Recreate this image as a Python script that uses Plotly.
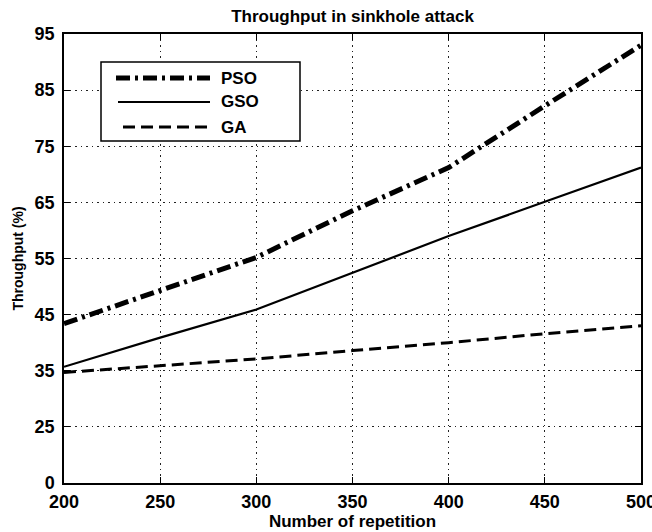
import plotly.graph_objects as go

# Number of repetitions (x) and throughput (%) of each algorithm
repetitions = [200, 250, 300, 350, 400, 450, 500]
pso = [43.4, 49.3, 55.2, 63.5, 71.2, 82.2, 93.0]
gso = [35.7, 40.9, 45.9, 52.5, 59.0, 65.1, 71.2]
ga = [34.7, 35.9, 37.1, 38.6, 40.0, 41.6, 43.0]

series_names = ["PSO", "GSO", "GA"]

# The y axis starts at 15, but its bottom tick is labelled 0
y_tickvals = [15, 25, 35, 45, 55, 65, 75, 85, 95]
y_ticktext = ["0", "25", "35", "45", "55", "65", "75", "85", "95"]
x_tickvals = [200, 250, 300, 350, 400, 450, 500]

W, H = 652, 532
ML, MR, MT, MB = 64, 11, 34, 49
PW, PH = W - ML - MR, H - MT - MB

FONT = "Liberation Sans, Arial, sans-serif"

styles = {
    "PSO": dict(color="black", width=5, dash="14px,5px,3px,5px"),
    "GSO": dict(color="black", width=2.2, dash="solid"),
    "GA": dict(color="black", width=3, dash="12px,6px"),
}

fig = go.Figure()
for name, ys in zip(series_names, [pso, gso, ga]):
    fig.add_trace(go.Scatter(x=repetitions, y=ys, mode="lines", name=name,
                             line=styles[name], showlegend=False))


def px_x(p):
    return (p - ML) / PW


def px_y(p):
    return (H - MB - p) / PH


# Hand-drawn legend box, with long sample lines like the MATLAB one
shapes = [dict(type="rect", xref="paper", yref="paper",
               x0=px_x(101), x1=px_x(300), y0=px_y(141), y1=px_y(62),
               line=dict(color="black", width=1.5), fillcolor="white",
               layer="above")]
annotations = []
rows = [("PSO", 78, 116), ("GSO", 102, 118), ("GA", 127, 123)]
for name, ypix, xstart in rows:
    st = styles[name]
    shapes.append(dict(type="line", xref="paper", yref="paper",
                       x0=px_x(xstart), x1=px_x(210), y0=px_y(ypix), y1=px_y(ypix),
                       line=dict(color="black", width=st["width"], dash=st["dash"]),
                       layer="above"))
    annotations.append(dict(xref="paper", yref="paper", x=px_x(219), y=px_y(ypix),
                            xanchor="left", yanchor="middle", text=name, showarrow=False,
                            font=dict(family=FONT, size=17, color="black", weight="bold")))

axis_common = dict(
    showline=True, linecolor="black", linewidth=1.5, mirror="allticks",
    ticks="inside", ticklen=6, tickwidth=1.2, tickcolor="black",
    showgrid=True, gridcolor="#222222", gridwidth=1, griddash="1.5px,4px",
    zeroline=False, ticklabeloverflow="allow", automargin=False,
    tickfont=dict(family=FONT, size=18, color="black", weight="bold"),
)

fig.update_layout(
    width=W, height=H,
    margin=dict(l=ML, r=MR, t=MT, b=MB, autoexpand=False),
    paper_bgcolor="white", plot_bgcolor="white",
    title=dict(text="Throughput in sinkhole attack", x=(ML + PW / 2) / W, xanchor="center",
               y=1 - 16 / H, yanchor="middle",
               font=dict(family=FONT, size=17, color="black", weight="bold")),
    xaxis=dict(range=[200, 500], tickvals=x_tickvals, ticklabelstandoff=2,
               title=dict(text="Number of repetition", standoff=1,
                          font=dict(family=FONT, size=17, color="black", weight="bold")),
               **axis_common),
    yaxis=dict(range=[15, 95], tickvals=y_tickvals, ticktext=y_ticktext, ticklabelstandoff=4,
               title=dict(text="Throughput (%)", standoff=8,
                          font=dict(family=FONT, size=14, color="black", weight="bold")),
               **axis_common),
    shapes=shapes,
    annotations=annotations,
    showlegend=False,
)

fig.write_html("out.html")
